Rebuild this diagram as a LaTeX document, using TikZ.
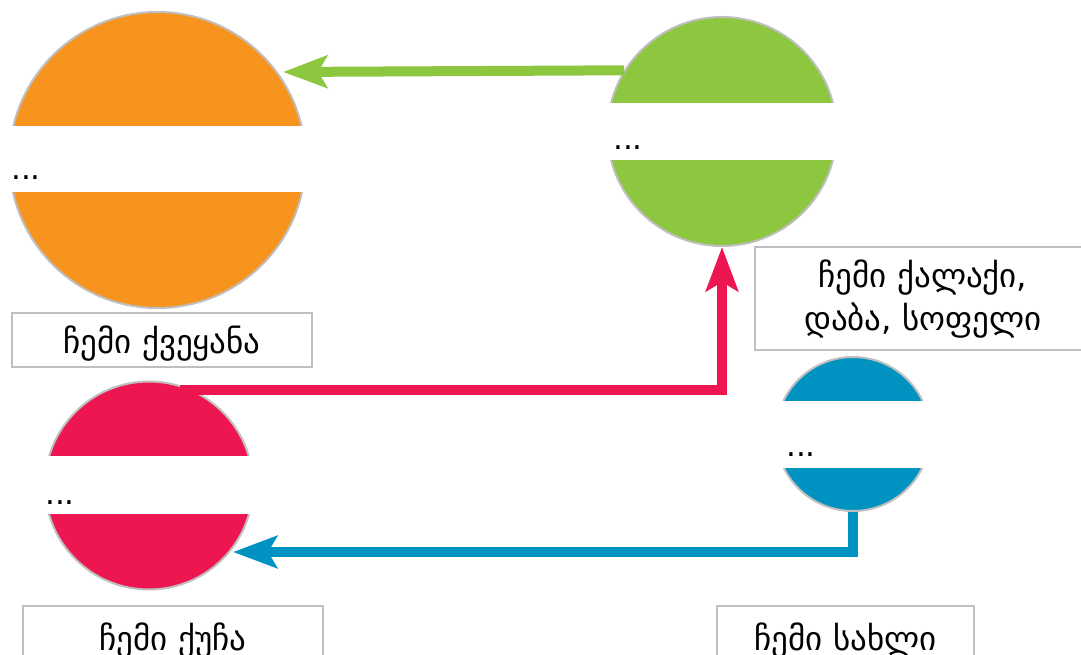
\documentclass[tikz,border=0pt]{standalone}
\usepackage{fontspec}
\setmainfont{DejaVu Sans}
\usetikzlibrary{arrows.meta}
\definecolor{cOrange}{HTML}{F7941D}
\definecolor{cGreen}{HTML}{8DC63F}
\definecolor{cPink}{HTML}{ED1651}
\definecolor{cBlue}{HTML}{0093C2}
\definecolor{cGray}{HTML}{BFBFBF}
\begin{document}
\begin{tikzpicture}[x=1pt,y=-1pt,
  disc/.style={circle, draw=cGray, line width=2pt, inner sep=0pt},
  band/.style={fill=white},
  dots/.style={anchor=base west, inner sep=0pt, font=\fontsize{31}{36}\selectfont},
  tag/.style={draw=cGray, line width=1.5pt, inner sep=0pt, font=\fontsize{33}{43}\selectfont},
  conn/.style={line width=10pt, -{Stealth[length=44pt,width=32pt,inset=9pt]}}]
\useasboundingbox (0,0) rectangle (1081,655);
% circles
\node[disc, fill=cOrange, minimum size=296pt] (o) at (157.5,160) {};
\node[disc, fill=cGreen, minimum size=229pt] (g) at (722,131.5) {};
\node[disc, fill=cPink, minimum size=208pt] (p) at (149,485.5) {};
\node[disc, fill=cBlue, minimum size=154pt] (b) at (853,434) {};
% white bands
\fill[band] (5,126) rectangle (310,192);
\fill[band] (604,103) rectangle (840,160);
\fill[band] (41,456) rectangle (257,514);
\fill[band] (773,401) rectangle (933,468);
% dots
\node[dots] (od) at (11,179.5) {...};
\node[dots] (gd) at (613,149.5) {...};
\node[dots] (pd) at (45,504.5) {...};
\node[dots] (bd) at (786,456.5) {...};
% labels
\node[tag, anchor=base, minimum width=300pt, text height=40pt, text depth=14pt] (ol) at (162,353) {ჩემი ქვეყანა};
\node[tag, anchor=north, minimum width=336pt, align=center] (gl) at (923,246)
  {\rule{0pt}{41pt}ჩემი ქალაქი,\\დაბა, სოფელი\rule[-19pt]{0pt}{19pt}};
\node[tag, anchor=base, minimum width=300pt, text height=44pt, text depth=15pt] (pl) at (173,650) {ჩემი ქუჩა};
\node[tag, anchor=base, minimum width=257pt, text height=44pt, text depth=15pt] (bl) at (845.5,650) {ჩემი სახლი};
% connectors
\coordinate (gEnd) at (283,72);
\coordinate (pStart) at (180,390);
\coordinate (bEnd) at (233,552);
\draw[conn, cGreen] (g.148.7) -- (gEnd);
\draw[conn, cPink] (pStart) -| (g.south);
\draw[conn, cBlue] (b.south) |- (bEnd);
\end{tikzpicture}
\end{document}
